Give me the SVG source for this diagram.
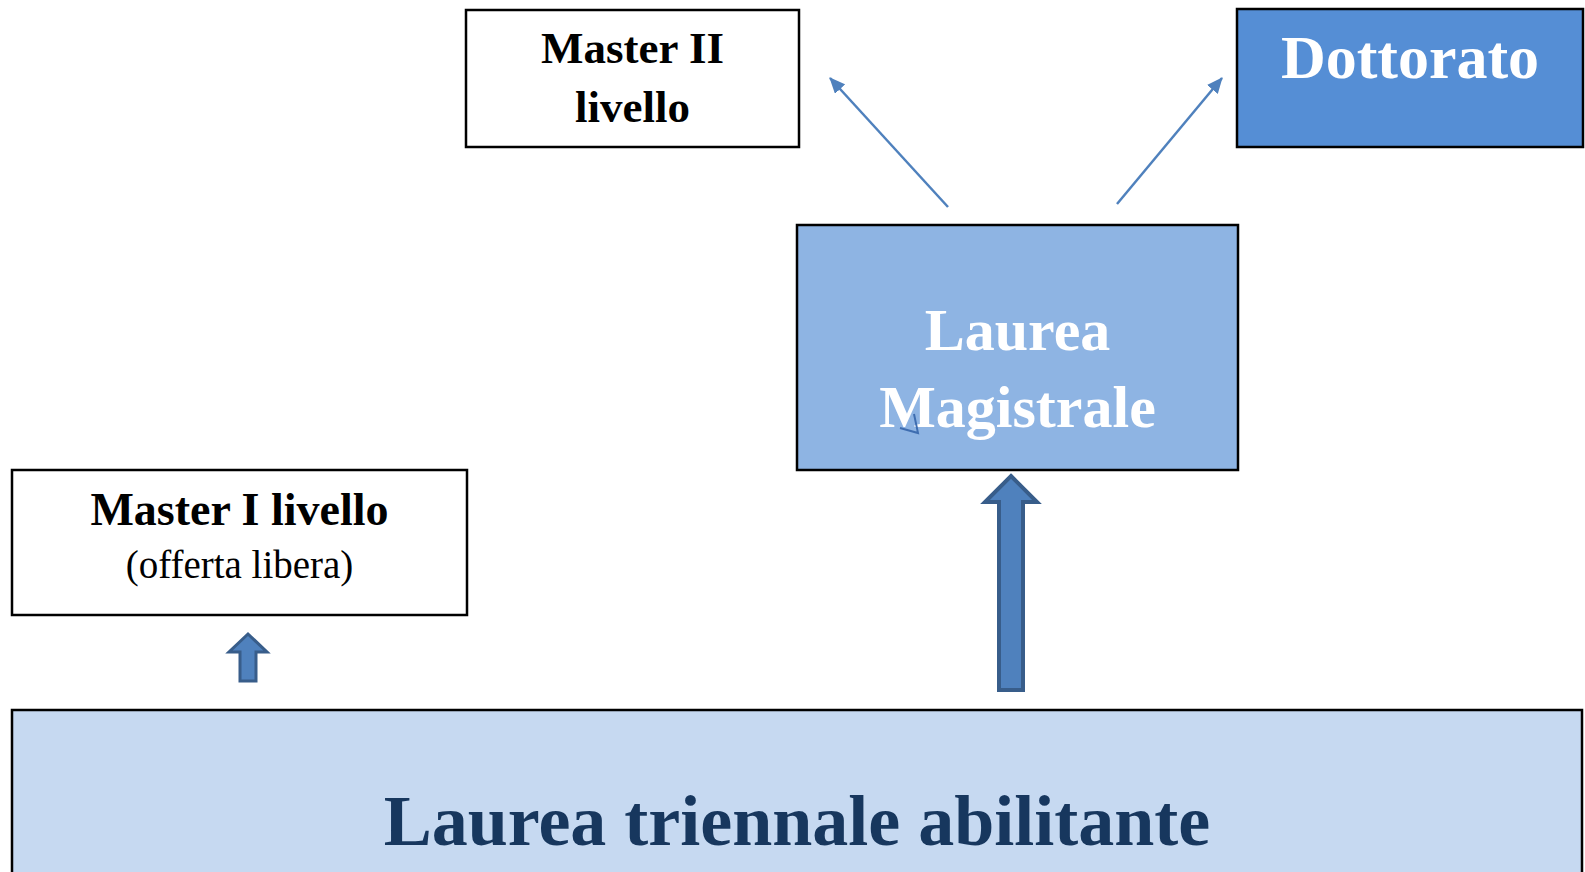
<svg xmlns="http://www.w3.org/2000/svg" width="1585" height="872" viewBox="0 0 1585 872">
<style>
.box{stroke:#000;stroke-width:2.5}
.t{font-family:"Liberation Serif","Times New Roman",serif;text-anchor:middle}
.b{font-weight:bold}
.conn{stroke:#4F81BD;stroke-width:2.5;fill:none}
.block{fill:#4F81BD;stroke:#385D8A;stroke-linejoin:miter}
</style>
<defs>
<marker id="ah" markerUnits="userSpaceOnUse" markerWidth="16" markerHeight="14" refX="15" refY="7" orient="auto" viewBox="0 0 16 14">
<path d="M0,0 L16,7 L0,14 Z" fill="#4F81BD"/>
</marker>
</defs>
<rect width="1585" height="872" fill="#fff"/>
<g id="master2">
<rect class="box" x="466" y="10" width="333" height="137" fill="#fff"/>
<text class="t b" x="632.5" y="63" font-size="45" fill="#000">Master II</text>
<text class="t b" x="632.5" y="122" font-size="45" fill="#000">livello</text>
</g>
<g id="dottorato">
<rect class="box" x="1237" y="9" width="346" height="138" fill="#558ED5"/>
<text class="t b" x="1410" y="78" font-size="62" fill="#fff">Dottorato</text>
</g>
<g id="magistrale">
<rect class="box" x="797" y="225" width="441" height="245" fill="#8EB4E3"/>
<text class="t b" x="1017.5" y="350" font-size="60" fill="#fff">Laurea</text>
<text class="t b" x="1017.5" y="427" font-size="60" fill="#fff">Magistrale</text>
<path d="M900,428 L918,433 L914,414" fill="none" stroke="#3E6DB0" stroke-width="2"/>
</g>
<g id="master1">
<rect class="box" x="12" y="470" width="455" height="145" fill="#fff"/>
<text class="t b" x="239.5" y="525" font-size="46" fill="#000">Master I livello</text>
<text class="t" x="239.5" y="578" font-size="39" fill="#000">(offerta libera)</text>
</g>
<g id="triennale">
<rect class="box" x="12" y="710" width="1570" height="175" fill="#C6D9F1"/>
<text class="t b" x="797" y="845" font-size="72" fill="#17375E">Laurea triennale abilitante</text>
</g>
<g id="connectors">
<line class="conn" x1="948" y1="207" x2="830" y2="78" marker-end="url(#ah)"/>
<line class="conn" x1="1117" y1="204" x2="1222" y2="78" marker-end="url(#ah)"/>
<path class="block" stroke-width="3" d="M248,634 L267,652 L256,652 L256,681 L240,681 L240,652 L229,652 Z"/>
<path class="block" stroke-width="4" d="M1011,476 L1037,502 L1023,502 L1023,690 L999,690 L999,502 L985,502 Z"/>
</g>
</svg>
